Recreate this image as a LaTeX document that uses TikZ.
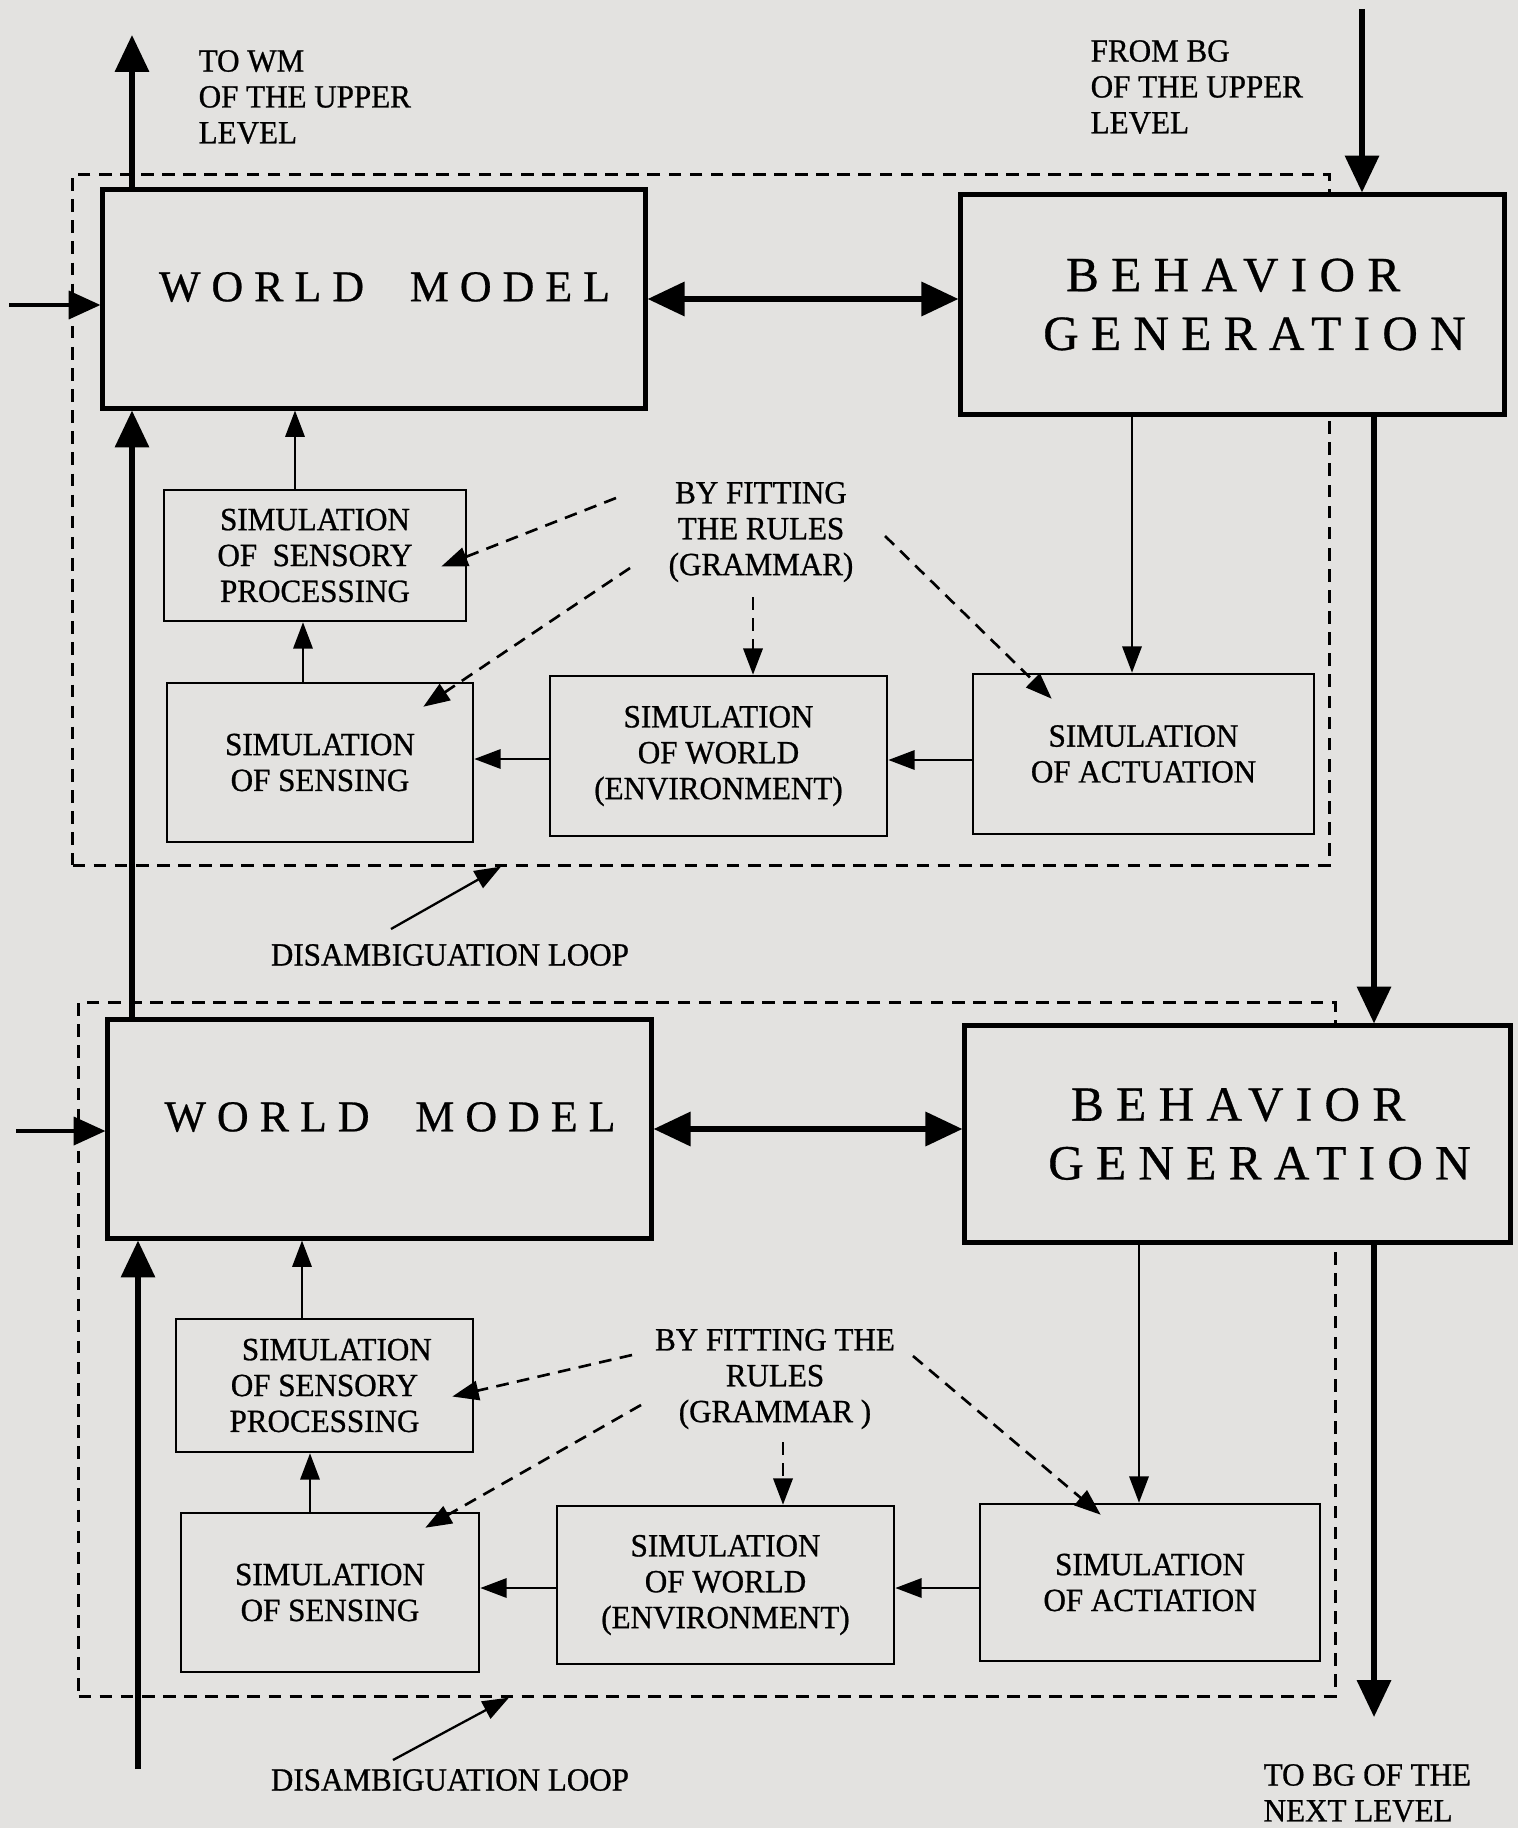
\documentclass[tikz,border=0pt]{standalone}
\usepackage{fontspec}
\setmainfont[FakeBold=0.8,FakeStretch=0.96]{Liberation Serif}
\newfontfamily\spacedfont[LetterSpace=25,FakeBold=0.6]{Liberation Serif}
\usetikzlibrary{arrows.meta,calc}
\definecolor{papel}{RGB}{227,226,224}

\begin{document}
\begin{tikzpicture}[x=0.01cm,y=-0.01cm,
    mainbox/.style={draw,fill=papel,line width=1.4pt,inner sep=0pt},
    simbox/.style={draw,line width=0.7pt,inner sep=0pt,align=center,font=\fontsize{9.2}{10.2}\selectfont},
    loopbox/.style={draw,line width=0.8pt,dash pattern=on 3.6pt off 2.4pt,inner sep=0pt},
    lbl/.style={inner sep=0pt,font=\fontsize{9.2}{10.2}\selectfont},
    wmtext/.style={font=\spacedfont\fontsize{12.5}{15}\selectfont},
    bgtext/.style={align=left,font=\spacedfont\fontsize{14}{16.7}\selectfont},
    thickarrow/.style={line width=1.5pt,-{Triangle[length=10.5pt,width=9.5pt]}},
    botharrow/.style={line width=1.5pt,{Triangle[length=10.5pt,width=9.5pt]}-{Triangle[length=10.5pt,width=9.5pt]}},
    inarrow/.style={line width=0.9pt,-{Triangle[length=9pt,width=8pt]}},
    simarrow/.style={line width=0.65pt,-{Triangle[length=7.5pt,width=5.5pt]}},
    dasharrow/.style={simarrow,line width=0.75pt,dash pattern=on 3.6pt off 2.4pt}]

    % Fondo
    \fill[papel] (0,0) rectangle (1518,1828);
    \useasboundingbox (0,0) rectangle (1518,1828);

    % Nivel superior
    \node[loopbox,minimum width=12.56cm,minimum height=6.90cm] (loopA) at (701,520) {};
    \node[mainbox,wmtext,minimum width=5.42cm,minimum height=2.18cm] (wmA) at (374,299)
        {\raisebox{7pt}{\hspace*{6pt}WORLD\hspace{13pt}MODEL}};
    \node[mainbox,bgtext,minimum width=5.43cm,minimum height=2.19cm] (bgA) at (1232.5,304.5)
        {\hspace*{19pt}BEHAVIOR\\\hspace*{12.5pt}GENERATION};
    \node[simbox,minimum width=3.02cm,minimum height=1.31cm] (spA) at (315,555.5) {SIMULATION\\OF~~SENSORY\\PROCESSING};
    \node[simbox,minimum width=3.06cm,minimum height=1.59cm] (snA) at (320,762.5) {SIMULATION\\OF SENSING};
    \node[simbox,minimum width=3.37cm,minimum height=1.60cm] (swA) at (718.5,756) {SIMULATION\\OF WORLD\\(ENVIRONMENT)};
    \node[simbox,minimum width=3.41cm,minimum height=1.60cm] (saA) at (1143.5,754) {SIMULATION\\OF ACTUATION};
    \node[lbl,align=center] (rulesA) at (761,532) {BY FITTING\\THE RULES\\(GRAMMAR)};
    \node[lbl] (disA) at (450,955) {DISAMBIGUATION LOOP};
    \node[lbl,align=left,anchor=west] (toWMlbl) at (198,97) {TO WM\\OF THE UPPER\\LEVEL};
    \node[lbl,align=left,anchor=west] (fromBGlbl) at (1090,87) {FROM BG\\OF THE UPPER\\LEVEL};

    % Nivel inferior
    \node[loopbox,minimum width=12.56cm,minimum height=6.93cm] (loopB) at (707,1349.5) {};
    \node[mainbox,wmtext,minimum width=5.43cm,minimum height=2.18cm] (wmB) at (379.5,1129)
        {\raisebox{7pt}{\hspace*{6pt}WORLD\hspace{13pt}MODEL}};
    \node[mainbox,bgtext,minimum width=5.45cm,minimum height=2.16cm] (bgB) at (1237.5,1134)
        {\hspace*{19pt}BEHAVIOR\\\hspace*{12.5pt}GENERATION};
    \node[simbox,minimum width=2.97cm,minimum height=1.33cm] (spB) at (324.5,1385.5) {\hspace*{7pt}SIMULATION\\OF SENSORY\\PROCESSING};
    \node[simbox,minimum width=2.98cm,minimum height=1.59cm] (snB) at (330,1592.5) {SIMULATION\\OF SENSING};
    \node[simbox,minimum width=3.37cm,minimum height=1.58cm] (swB) at (725.5,1585) {SIMULATION\\OF WORLD\\(ENVIRONMENT)};
    \node[simbox,minimum width=3.40cm,minimum height=1.57cm] (saB) at (1150,1582.5) {SIMULATION\\OF ACTIATION};
    \node[lbl,align=center] (rulesB) at (775,1379) {BY FITTING THE\\RULES\\(GRAMMAR )};
    \node[lbl] (disB) at (450,1780) {DISAMBIGUATION LOOP};
    \node[lbl,align=left,anchor=west] (toBGlbl) at (1263,1793) {TO BG OF THE\\NEXT LEVEL};

    % Extremos libres
    \coordinate (toWM) at (132,35);
    \coordinate (fromBG) at (1362,9);
    \coordinate (inA) at (9,305);
    \coordinate (inB) at (16,1131);
    \coordinate (fromLow) at (138,1769);
    \coordinate (toBG) at (1374,1717);

    % Flechas entre niveles
    \draw[thickarrow] (wmA.north -| toWM) -- (toWM);
    \draw[thickarrow] (fromBG) -- (fromBG |- bgA.north);
    \draw[thickarrow] (wmB.north -| toWM) -- (wmA.south -| toWM);
    \draw[thickarrow] (bgA.south -| toBG) -- (bgB.north -| toBG);
    \draw[thickarrow] (fromLow) -- (fromLow |- wmB.south);
    \draw[thickarrow] (bgB.south -| toBG) -- (toBG);
    \draw[botharrow] (wmA.east) -- (wmA.east -| bgA.west);
    \draw[botharrow] (wmB.east) -- (wmB.east -| bgB.west);
    \draw[inarrow] (inA) -- (inA -| wmA.west);
    \draw[inarrow] (inB) -- (inB -| wmB.west);

    % Lazo superior
    \draw[simarrow] (spA.north -| 295,0) -- (wmA.south -| 295,0);
    \draw[simarrow] (snA.north -| 303,0) -- (spA.south -| 303,0);
    \draw[simarrow] (swA.west |- 0,759) -- (snA.east |- 0,759);
    \draw[simarrow] (saA.west |- 0,760) -- (swA.east |- 0,760);
    \draw[simarrow] (bgA.south -| 1132,0) -- (saA.north -| 1132,0);
    \draw[dasharrow] ($(rulesA)+(-145,-34)$) -- ($(spA.east)+(-26,11)$);
    \draw[dasharrow] ($(rulesA)+(-131,36)$) -- ($(snA.north east)+(-51,25)$);
    \draw[dasharrow] ($(rulesA)+(-8,65)$) -- ($(swA.north)+(34.5,0)$);
    \draw[dasharrow] ($(rulesA)+(124,4)$) -- ($(saA.north west)+(80,26)$);
    \draw[simarrow] ($(disA)+(-59,-26)$) -- (loopA.south -| 501,0);

    % Lazo inferior
    \draw[simarrow] (spB.north -| 302,0) -- (wmB.south -| 302,0);
    \draw[simarrow] (snB.north -| 310,0) -- (spB.south -| 310,0);
    \draw[simarrow] (swB.west |- 0,1588) -- (snB.east |- 0,1588);
    \draw[simarrow] (saB.west |- 0,1588) -- (swB.east |- 0,1588);
    \draw[simarrow] (bgB.south -| 1139,0) -- (saB.north -| 1139,0);
    \draw[dasharrow] ($(rulesB)+(-143,-24)$) -- ($(spB.east)+(-22,11)$);
    \draw[dasharrow] ($(rulesB)+(-134,26)$) -- ($(snB.north east)+(-55,16)$);
    \draw[dasharrow] ($(rulesB)+(8,63)$) -- ($(swB.north)+(57.5,0)$);
    \draw[dasharrow] ($(rulesB)+(138,-23)$) -- ($(saB.north west)+(122,12)$);
    \draw[simarrow] ($(disB)+(-57,-20)$) -- (loopB.south -| 509,0);

\end{tikzpicture}
\end{document}
